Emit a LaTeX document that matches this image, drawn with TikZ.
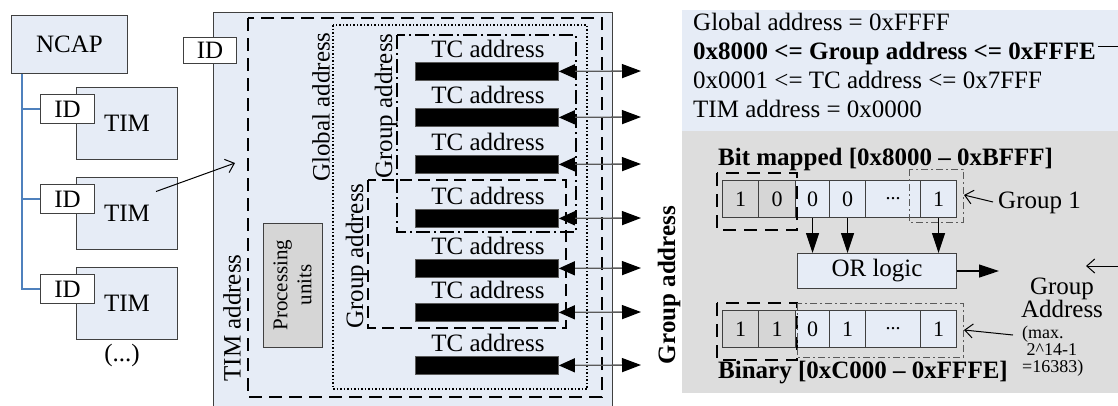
\documentclass[tikz,border=0pt]{standalone}
\usepackage{fontspec}
\setmainfont{Liberation Serif}
\usetikzlibrary{arrows.meta}
\definecolor{paleblue}{HTML}{E6ECF6}
\definecolor{panelgray}{HTML}{DDDDDD}
\definecolor{procgray}{HTML}{D6D6D6}
\definecolor{edge}{HTML}{404040}
\definecolor{busblue}{HTML}{4F81BD}
\definecolor{wire}{HTML}{5A5A5A}

\begin{document}
\begin{tikzpicture}[x=1pt,y=-1pt,
  every node/.style={font=\fontsize{25}{28}\selectfont, inner sep=0pt},
  box/.style={draw=edge, line width=1pt, fill=paleblue, anchor=north west},
  idbox/.style={draw=edge, line width=1pt, fill=white, anchor=north west},
  bar/.style={fill=black, draw=wire, line width=0.8pt, anchor=north west,
    minimum width=143pt, minimum height=18pt},
  cell/.style={draw=edge, line width=1pt, anchor=north west, minimum height=37pt,
    font=\fontsize{22}{24}\selectfont},
  bus/.style={draw=busblue, line width=1.2pt},
  barb/.style={draw=black, line width=1pt, -{Straight Barb[length=8pt,width=14pt]}},
  tcarrow/.style={draw=wire, line width=1.3pt,
    {Triangle[length=16pt,width=14pt,color=black]}-{Triangle[length=19pt,width=14pt,color=black]}},
  fatarrow/.style={draw=black, line width=1.2pt, -{Triangle[length=20pt,width=13pt]}},
  longdash/.style={draw=black, line width=1.5pt, dash pattern=on 13pt off 7pt},
  dotline/.style={draw=black, line width=1.5pt, dash pattern=on 1.5pt off 2pt},
  dashdotline/.style={draw=black, line width=1.3pt, dash pattern=on 14pt off 4pt on 2pt off 4pt},
  groupdash/.style={draw=black, line width=1.5pt, dash pattern=on 12pt off 6pt},
  graydashdot/.style={draw=wire, line width=1pt, dash pattern=on 7pt off 3pt on 2pt off 3pt},
  heavydash/.style={draw=black, line width=1.8pt, dash pattern=on 13pt off 8pt},
  boldtext/.style={font=\fontsize{25}{28}\selectfont\bfseries},
]
\useasboundingbox (0,0) rectangle (1118,405);

% ---------- NCAP and its TIMs ----------
\node[box, minimum width=116pt, minimum height=58pt] (ncap) at (11,15) {NCAP};
\foreach \i/\y in {1/87, 2/177, 3/267} {
  \node[box, minimum width=101pt, minimum height=72pt] (tim\i) at (76,\y) {TIM};
}
\node[idbox, minimum width=54pt, minimum height=29pt] (id1) at (40,94) {ID};
\node[idbox, minimum width=54pt, minimum height=29pt] (id2) at (40,184) {ID};
\node[idbox, minimum width=54pt, minimum height=29pt] (id3) at (40,274) {ID};
\coordinate (bustop) at ([xshift=11pt]ncap.south west);
\draw[bus] (bustop) |- (id1.west);
\draw[bus] (bustop) |- (id2.west);
\draw[bus] (bustop) |- (id3.west);
\node (more) at (122,355) {(...)};

% ---------- inside one TIM ----------
\node[draw=edge, fill=paleblue, line width=1pt, anchor=north west,
  minimum width=399pt, minimum height=400pt] (timblock) at (213,12) {};
\node[idbox, minimum width=53pt, minimum height=26pt] (idt) at (183,37) {ID};

\draw[longdash] (248,18) rectangle (602,397);
\draw[dotline] (333,25) rectangle (587,389);
\draw[dashdotline] (397,35) rectangle (576,232);
\draw[groupdash] (368,180) rectangle (566,328);

\node[rotate=90] (ltimaddr) at (232,318) {TIM address};
\node[rotate=90] (lglobal) at (321,107) {Global address};
\node[rotate=90] (lgroupa) at (386,106) {Group address};
\node[rotate=90] (lgroupb) at (357,256) {Group address};

\node[draw=edge, fill=procgray, line width=1pt, rotate=90, align=center,
  minimum width=124pt, minimum height=59pt, font=\fontsize{21}{24}\selectfont]
  (proc) at (292.5,285) {Processing\\units};

\coordinate (zoomtip) at (235,163);
\draw[barb] ([xshift=29pt,yshift=22pt]tim2.center) -- (zoomtip);

\foreach \i/\y in {1/62,2/108,3/155,4/209,5/259,6/303,7/356} {
  \node[bar] (bar\i) at (415,\y) {};
  \node[anchor=south] (tc\i) at ([xshift=1pt,yshift=4pt]bar\i.north) {TC address};
  \coordinate (out\i) at (641,{\y+9});
  \draw[tcarrow] (bar\i.east) -- (out\i);
}

% ---------- address ranges ----------
\fill[paleblue] (682,10) rectangle (1118,131);
\fill[panelgray] (682,131) rectangle (1118,393);

\node[anchor=base west] (rglobal) at (693,30) {Global address = 0xFFFF};
\node[anchor=base west, boldtext] (rgroup) at (693,59) {0x8000 <= Group address <= 0xFFFE};
\node[anchor=base west] (rtc) at (693,88) {0x0001 <= TC address <= 0x7FFF};
\node[anchor=base west] (rtim) at (693,117) {TIM address = 0x0000};

\node[rotate=90, boldtext] (lgroupbold) at (669,285) {Group address};

% bit mapped group address
\node[anchor=base west, boldtext] (bmtitle) at (718,165) {Bit mapped [0x8000 – 0xBFFF]};
\node[cell, fill=procgray, minimum width=36pt] (bma) at (722,180) {1};
\node[cell, fill=procgray, minimum width=37pt] (bmb) at (758,180) {0};
\node[cell, fill=paleblue, minimum width=34pt] (bmc) at (795,180) {0};
\node[cell, fill=paleblue, minimum width=36pt] (bmd) at (829,180) {0};
\node[cell, fill=paleblue, minimum width=55pt, font=\fontsize{20}{22}\selectfont] (bme) at (865,180) {...};
\node[cell, fill=paleblue, minimum width=36pt] (bmf) at (920,180) {1};
\draw[heavydash] (717,173) rectangle (797,230);
\draw[graydashdot] (909,169) rectangle (963,222);

\node[box, minimum width=159pt, minimum height=35pt] (orl) at (797,253) {OR logic};
\draw[fatarrow] (bmc.south) -- (bmc.south |- orl.north);
\draw[fatarrow] (bmd.south) -- (bmd.south |- orl.north);
\draw[fatarrow] (bmf.south) -- (bmf.south |- orl.north);
\coordinate (orout) at (999,271);
\draw[fatarrow] (orl.east) -- (orout);

\node[anchor=west] (g1) at (998,203) {Group 1};
\coordinate (g1tip) at (964,195);
\draw[barb] ([xshift=-5pt,yshift=1pt]g1.west) -- (g1tip);

% binary group address
\node[cell, fill=procgray, minimum width=36pt] (bna) at (722,310) {1};
\node[cell, fill=procgray, minimum width=37pt] (bnb) at (758,310) {1};
\node[cell, fill=paleblue, minimum width=34pt] (bnc) at (795,310) {0};
\node[cell, fill=paleblue, minimum width=36pt] (bnd) at (829,310) {1};
\node[cell, fill=paleblue, minimum width=55pt, font=\fontsize{20}{22}\selectfont] (bne) at (865,310) {...};
\node[cell, fill=paleblue, minimum width=36pt] (bnf) at (920,310) {1};
\draw[heavydash] (717,303) rectangle (797,360);
\draw[graydashdot] (797,303) rectangle (963,357);
\node[anchor=base west, boldtext] (bntitle) at (718,378) {Binary [0xC000 – 0xFFFE]};

\node[align=center, font=\fontsize{25}{23}\selectfont] (gaddr) at (1062,298) {Group\\Address};
\node[anchor=north west, align=left, font=\fontsize{18}{17}\selectfont] (gmax) at (1022,326)
  {(max.\\\ 2\textasciicircum 14-1\\=16383)};
\coordinate (gatail) at (1013,335);
\coordinate (gahead) at (964,330);
\draw[barb] (gatail) -- (gahead);

% group address range leads round to the group address label
\coordinate (gatip) at (1086,266);
\draw[barb] ([xshift=2pt,yshift=6pt]rgroup.east) -- ++(40,0) |- (gatip);
\end{tikzpicture}
\end{document}
